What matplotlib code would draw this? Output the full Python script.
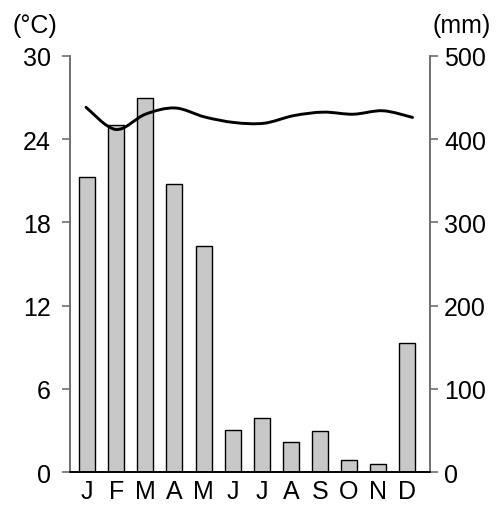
import matplotlib
matplotlib.use("Agg")
import matplotlib.pyplot as plt
from matplotlib.path import Path
from matplotlib.patches import PathPatch
import numpy as np

# ── Data ───────────────────────────────────────────────────────────────────────
MONTHS = ["J", "F", "M", "A", "M", "J", "J", "A", "S", "O", "N", "D"]
PRECIP_MM = [355, 417, 450, 346, 272, 50, 65, 36, 49, 15, 10, 155]
TEMP_C = [26.3, 24.7, 25.8, 26.25, 25.6, 25.2, 25.15, 25.7, 25.95, 25.8, 26.05, 25.57]
TEMP_TICKS = [0, 6, 12, 18, 24, 30]
PRECIP_TICKS = [0, 100, 200, 300, 400, 500]

plt.rcParams["font.family"] = ["Liberation Sans", "DejaVu Sans"]
FS = 18
SPINE = "#707070"
# the temperature curve is drawn slightly wider than the bar row
LINE_X0, LINE_X1 = -0.04, 11.18


def smooth_path(xs, ys, t=1 / 6):
    """Bezier path through the points (Catmull-Rom style handles)."""
    pts = np.column_stack([xs, ys])
    verts = [pts[0]]
    codes = [Path.MOVETO]
    n = len(pts)
    for i in range(n - 1):
        p0 = pts[max(i - 1, 0)]
        p1 = pts[i]
        p2 = pts[i + 1]
        p3 = pts[min(i + 2, n - 1)]
        c1 = p1 + (p2 - p0) * t
        c2 = p2 - (p3 - p1) * t
        verts += [c1, c2, p2]
        codes += [Path.CURVE4] * 3
    return Path(verts, codes)


fig = plt.figure(figsize=(5.0, 5.06), dpi=100)
ax = fig.add_axes([0.14, 0.0652, 0.72, 0.8222])
ax2 = ax.twinx()

x = np.arange(len(MONTHS))

# precipitation bars on right axis
ax2.bar(x, PRECIP_MM, width=0.55, color="#c8c8c8", edgecolor="black", linewidth=1.0, zorder=2)
ax2.set_ylim(0, 500)
ax2.set_yticks(PRECIP_TICKS)
ax2.set_yticklabels([str(v) for v in PRECIP_TICKS], fontsize=FS)

# temperature curve on left axis, drawn above bars
ax.set_zorder(ax2.get_zorder() + 1)
ax.patch.set_visible(False)
line_x = np.linspace(LINE_X0, LINE_X1, len(TEMP_C))
ax.add_patch(PathPatch(smooth_path(line_x, TEMP_C), facecolor="none", edgecolor="black",
                       linewidth=2.1, zorder=3, capstyle="round"))
ax.set_ylim(0, 30)
ax.set_xlim(-0.59, 11.78)
ax.set_yticks(TEMP_TICKS)
ax.set_yticklabels([str(v) for v in TEMP_TICKS], fontsize=FS)
ax.set_xticks(x)
ax.set_xticklabels(MONTHS, fontsize=FS)
ax.tick_params(axis="x", length=0, pad=5)

for a in (ax, ax2):
    a.spines["top"].set_visible(False)
    a.spines["left"].set_color(SPINE)
    a.spines["right"].set_color(SPINE)
    a.spines["left"].set_linewidth(1.2)
    a.spines["right"].set_linewidth(1.2)
    a.spines["bottom"].set_color("black")
    a.spines["bottom"].set_linewidth(1.2)
ax.tick_params(axis="y", length=6, width=1.2, color=SPINE, pad=8)
ax2.tick_params(axis="y", length=6, width=1.2, color=SPINE, pad=4)

fig.text(0.024, 0.935, "(°C)", fontsize=FS, ha="left", va="baseline")
fig.text(0.982, 0.935, "(mm)", fontsize=FS, ha="right", va="baseline")

fig.savefig("out.png", dpi=100)
